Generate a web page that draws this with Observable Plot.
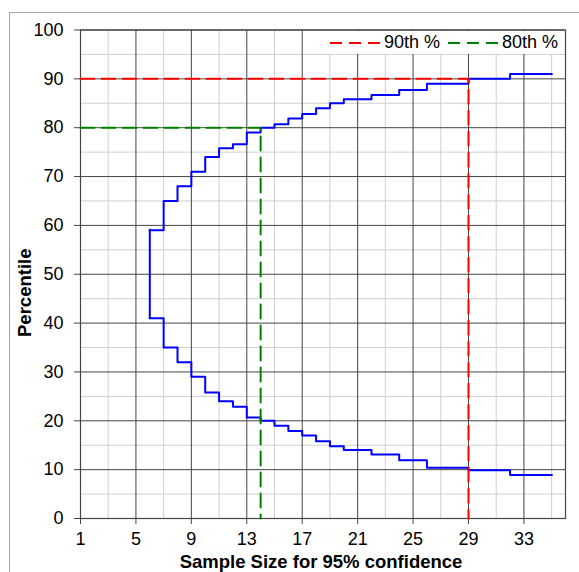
<!DOCTYPE html>
<html><head><meta charset="utf-8">
<script src="https://cdn.jsdelivr.net/npm/d3@7"></script>
<script src="https://cdn.jsdelivr.net/npm/@observablehq/plot@0.6"></script>
<style>
body{margin:0;background:#fff;}
#wrap{position:relative;width:579px;height:572px;overflow:hidden;font-family:Arial,"Liberation Sans",sans-serif;}
#frame{position:absolute;left:9px;top:12px;width:700px;height:700px;border-left:1.5px solid #a6a6a6;border-top:1.5px solid #a6a6a6;}
#chart{position:absolute;left:0;top:0;}
#legend{position:absolute;left:326px;top:30.5px;width:238px;height:23px;background:#fff;font-size:18px;color:#000;}
#legend .it{position:absolute;top:0;height:23px;line-height:23px;white-space:nowrap;}
#legend svg{position:absolute;top:0;}
</style></head>
<body><div id="wrap"><div id="frame"></div><div id="chart"></div><div id="legend"></div></div>
<script>
// Step curve values (sample size where the step begins)
const sampleSize = [6,7,8,9,10,11,12,13,14,15,16,17,18,19,20,22,24,26,29,32,35];
const upperPct   = [59,65,68,71,74,75.8,76.6,79,80,80.7,81.9,82.8,84,85,85.8,86.7,87.7,89,90,91,91];
const lowerPct   = [41,35,32,29,25.8,24,22.9,20.7,20,19,17.9,17,15.8,14.8,14,13.1,11.9,10.4,9.9,8.9,8.9];

// Reference (dashed) lines
const refLabels = ["90th %","80th %"];
const refPct    = [90,80];
const refN      = [29,14];
const refColors = ["#ff0000","#008000"];

// Ticks / gridlines
const xTicks = [1,5,9,13,17,21,25,29,33];
const xMinor = [3,7,11,15,19,23,27,31,35];
const yTicks = [0,10,20,30,40,50,60,70,80,90,100];
const yMinor = [5,15,25,35,45,55,65,75,85,95];
const xDomain = [1,36];
const yDomain = [0,100];

const upper = sampleSize.map((n,i)=>({n, p: upperPct[i]}));
const lower = sampleSize.map((n,i)=>({n, p: lowerPct[i]}));
const refs = refPct.flatMap((p,i)=>[
  {k:refLabels[i], n:xDomain[0], p},
  {k:refLabels[i], n:refN[i], p},
  {k:refLabels[i], n:refN[i], p:yDomain[0]}
]);

const major = "#454545", minor = "#cfcfcf";
const font = 'Arial, "Liberation Sans", sans-serif';

const chart = Plot.plot({
  width: 579, height: 572,
  marginLeft: 80, marginRight: 14, marginTop: 29.5, marginBottom: 54,
  style: {fontFamily: font, fontSize: "18px", color: "#000", background: "transparent", overflow: "visible"},
  x: {domain: xDomain},
  y: {domain: yDomain},
  marks: [
    Plot.ruleX(xMinor, {stroke: minor, strokeWidth: 1}),
    Plot.ruleY(yMinor, {stroke: minor, strokeWidth: 1}),
    Plot.ruleX(xTicks, {stroke: major, strokeWidth: 1}),
    Plot.ruleY(yTicks, {stroke: major, strokeWidth: 1}),
    Plot.frame({stroke: major, strokeWidth: 1.2}),
    Plot.axisX({ticks: xTicks, tickSize: 6, tickPadding: 8, label: null, stroke: major, fontSize: 18}),
    Plot.axisY({ticks: yTicks, tickSize: 6, tickPadding: 11, label: null, stroke: major, fontSize: 18}),
    Plot.line(upper, {x: "n", y: "p", curve: "step-after", stroke: "#0000ff", strokeWidth: 2, strokeLinecap: "square"}),
    Plot.line(lower, {x: "n", y: "p", curve: "step-after", stroke: "#0000ff", strokeWidth: 2, strokeLinecap: "square"}),
    Plot.ruleX([sampleSize[0]], {y1: lowerPct[0], y2: upperPct[0], stroke: "#0000ff", strokeWidth: 2, strokeLinecap: "square"}),
    Plot.line(refs, {x: "n", y: "p", z: "k", stroke: d => refColors[refLabels.indexOf(d.k)], strokeWidth: 2, strokeDasharray: "14,7"}),
    Plot.text(["Sample Size for 95% confidence"], {frameAnchor: "bottom", lineAnchor: "middle", textAnchor: "middle", dy: 43.5, dx: -2, fontWeight: "bold", fontSize: 18.5}),
    Plot.text(["Percentile"], {frameAnchor: "left", lineAnchor: "middle", textAnchor: "middle", rotate: -90, dx: -55, dy: 18.5, fontWeight: "bold", fontSize: 18.5})
  ]
});
document.getElementById("chart").appendChild(chart);

// Legend (inside plot, top-right)
const legend = d3.select("#legend");
const legX = [[4, 58], [122, 176]];
refLabels.forEach((lab, i) => {
  const s = legend.append("svg").attr("width", 50).attr("height", 23).style("left", legX[i][0] + "px");
  s.append("line").attr("x1", 0).attr("x2", 50).attr("y1", 12).attr("y2", 12)
    .attr("stroke", refColors[i]).attr("stroke-width", 2).attr("stroke-dasharray", "12,7");
  legend.append("div").attr("class", "it").style("left", legX[i][1] + "px").text(lab);
});
</script>
</body></html>
